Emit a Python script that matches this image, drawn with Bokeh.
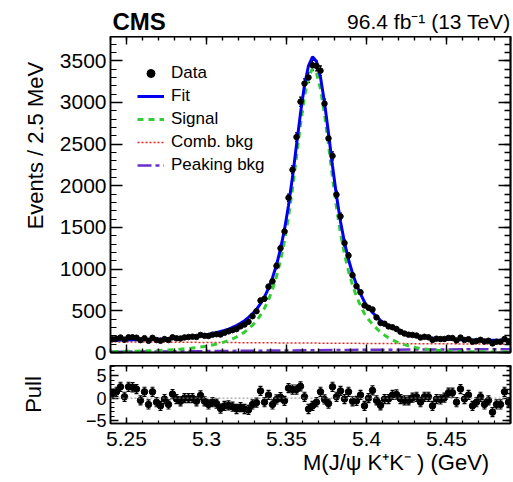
import math
from bokeh.plotting import figure
from bokeh.layouts import column
from bokeh.models import (Range1d, FixedTicker, LinearAxis, Legend, LegendItem,
                          ColumnDataSource, Whisker, TeeHead, Span)
from bokeh.core.properties import value
from bokeh.embed import file_html
from bokeh.resources import INLINE

# ---------------- data ----------------
x_lo, x_hi = 5.24, 5.49
bin_width = 0.0025
bin_centers = [round(x_lo + bin_width * (i + 0.5), 5) for i in range(100)]

data_counts = [
    159, 165, 180, 154, 182, 182, 178, 148, 172, 140,
    176, 149, 140, 161, 149, 182, 170, 168, 181, 185,
    190, 186, 211, 200, 197, 214, 220, 215, 236, 254,
    268, 281, 314, 335, 368, 435, 495, 624, 645, 789,
    854, 1039, 1251, 1451, 1856, 2191, 2584, 3008, 3226, 3298,
    3446, 3437, 3380, 2984, 2568, 2358, 1893, 1633, 1313, 1162,
    928, 796, 723, 564, 536, 516, 421, 355, 345, 313,
    303, 282, 248, 227, 214, 210, 203, 179, 188, 182,
    151, 166, 161, 163, 175, 173, 144, 179, 150, 160,
    129, 138, 152, 131, 141, 109, 129, 129, 162, 134,
]

fit_curve = [
    147, 148, 149, 150, 151, 152, 153, 154, 155, 157,
    158, 160, 162, 164, 167, 170, 173, 177, 181, 185,
    190, 196, 202, 210, 218, 228, 238, 251, 264, 281,
    301, 324, 351, 382, 421, 465, 518, 585, 668, 770,
    896, 1049, 1244, 1474, 1764, 2104, 2489, 2869, 3209, 3439,
    3547, 3490, 3300, 3000, 2630, 2240, 1880, 1570, 1320, 1115,
    950, 813, 704, 606, 536, 479, 431, 386, 349, 317,
    291, 269, 251, 235, 221, 209, 199, 191, 184, 178,
    173, 169, 165, 162, 159.5, 157.5, 155.5, 154, 152.5, 151.5,
    149.5, 148.5, 148, 147.5, 147, 146.5, 146, 145.5, 145, 145,
]

signal_curve = [
    10, 11, 11.5, 12.5, 13.5, 14.5, 15.5, 16.5, 18, 19.5,
    21, 23, 25, 27, 30, 33, 36, 40, 44, 48,
    53, 59, 65, 73, 81, 91, 101, 114, 127, 144,
    163, 186, 213, 244, 283, 327, 380, 447, 530, 632,
    757, 910, 1105, 1335, 1625, 1965, 2350, 2730, 3070, 3300,
    3407, 3350, 3160, 2860, 2490, 2100, 1740, 1430, 1180, 975,
    810, 672, 563, 465, 395, 338, 290, 245, 208, 176,
    150, 128, 110, 94, 80, 68, 58, 50, 43, 37,
    32, 28, 24, 21, 18.5, 16.5, 14.5, 13, 11.5, 10.5,
    9.5, 8.5, 8, 7.5, 7, 6.5, 6, 5.5, 5, 5,
]

bkg_x = [5.24, 5.265, 5.29, 5.315, 5.34, 5.365, 5.39, 5.415, 5.44, 5.465, 5.49]
comb_bkg = [128, 125, 122, 119, 116, 113, 110, 107.5, 105, 102.5, 100]
peaking_bkg = [9, 12, 15, 19, 23, 27, 31, 34, 36, 38, 39]

pulls = [
    1.0, 1.4, 2.5, 0.3, 2.5, 2.4, 2.0, -0.5, 1.4, -1.4,
    1.4, -0.9, -1.7, -0.2, -1.4, 0.9, -0.2, -0.7, 0.0, 0.0,
    0.0, -0.7, 0.6, -0.7, -1.4, -0.9, -1.2, -2.3, -1.7, -1.6,
    -1.9, -2.4, -2.0, -2.4, -2.6, -1.4, -1.0, 1.6, -0.9, 0.7,
    -1.4, -0.3, 0.2, -0.6, 2.2, 1.9, 1.9, 2.6, 0.3, -2.4,
    -1.7, -0.9, 1.4, -0.3, -1.2, 2.5, 0.3, 1.6, -0.2, 1.4,
    -0.7, -0.6, 0.7, -1.7, 0.0, 1.7, -0.5, -1.6, -0.2, -0.2,
    0.7, 0.8, -0.2, -0.5, -0.5, 0.1, 0.3, -0.9, 0.3, 0.3,
    -1.7, -0.2, -0.3, 0.1, 1.2, 1.2, -0.9, 2.0, -0.2, 0.7,
    -1.7, -0.9, 0.3, -1.4, -0.5, -3.1, -1.4, -1.4, 1.4, -0.9,
]

x_major = [5.25, 5.30, 5.35, 5.40, 5.45]
x_labels = {5.25: "5.25", 5.3: "5.3", 5.35: "5.35", 5.4: "5.4", 5.45: "5.45"}
x_minor = [round(5.24 + 0.01 * k, 2) for k in range(26)]
y_major = [0, 500, 1000, 1500, 2000, 2500, 3000, 3500]
y_minor = list(range(0, 3800, 100))
pull_major = [-5, 0, 5]
pull_minor = list(range(-5, 8))

header_left = "CMS"
header_right = "96.4 fb\u207b\u00b9 (13 TeV)"
y_title = "Events / 2.5 MeV"
pull_title = "Pull"
x_title = "M(J/\u03c8 K\u207aK\u207b ) (GeV)"

FONT = "Liberation Sans"
NB = "\u00a0"


def base_axis(ax, ticks, minor, tin, minin, size="21px"):
    ax.ticker = FixedTicker(ticks=ticks, minor_ticks=minor)
    ax.major_tick_in = tin
    ax.major_tick_out = 0
    ax.minor_tick_in = minin
    ax.minor_tick_out = 0
    ax.axis_line_color = "black"
    ax.axis_line_width = 1.5
    ax.major_tick_line_width = 1.5
    ax.minor_tick_line_width = 1.2
    ax.major_label_text_font = FONT
    ax.major_label_text_color = "black"
    ax.major_label_text_font_size = size
    ax.axis_label_text_color = "black"
    ax.axis_label_text_font = FONT
    ax.axis_label_text_font_size = "22px"
    ax.axis_label_text_font_style = "normal"


def tick_only_axes(p, side, major, minor, long_len, short_len):
    # two label-free axes: one for short (minor) ticks, one for long (major) ticks
    for ticks, ln in ((minor, short_len), (major, long_len)):
        ax = LinearAxis(ticker=FixedTicker(ticks=[], minor_ticks=ticks),
                        minor_tick_in=ln, minor_tick_out=0, major_tick_in=0, major_tick_out=0,
                        minor_tick_line_width=1.4, axis_line_color="black", axis_line_width=1.5,
                        major_label_standoff=0)
        p.add_layout(ax, side)


# ---------------- header strip ----------------
p0 = figure(width=513, height=36, x_range=Range1d(0, 1), y_range=Range1d(0, 1),
            output_backend="svg", toolbar_location=None, x_axis_type=None, y_axis_type=None,
            min_border_left=110, min_border_right=3, min_border_top=0, min_border_bottom=0)
p0.outline_line_color = None
p0.grid.visible = False
p0.text(x=[0.005], y=[0.42], text=[header_left], text_font=value(FONT), text_font_size="24px",
        text_font_style="bold", text_baseline="middle", text_align="left", text_color="black")
p0.text(x=[1], y=[0.42], text=[header_right], text_font=value(FONT), text_font_size="21px",
        text_baseline="middle", text_align="right", text_color="black")

# ---------------- main panel ----------------
p1 = figure(width=513, height=329, x_range=Range1d(x_lo, x_hi), y_range=Range1d(0, 3790),
            output_backend="svg", toolbar_location=None, x_axis_type=None,
            min_border_left=110, min_border_right=3, min_border_top=0, min_border_bottom=13)
p1.grid.visible = False
p1.outline_line_color = "black"
p1.outline_line_width = 1.5

base_axis(p1.yaxis[0], y_major, y_minor, 12, 6)
p1.yaxis[0].major_label_standoff = 4
p1.yaxis[0].axis_label = NB * 16 + y_title
p1.yaxis[0].axis_label_standoff = 9
tick_only_axes(p1, "below", x_major, x_minor, 8, 4)
tick_only_axes(p1, "above", x_major, x_minor, 8, 4)
tick_only_axes(p1, "right", y_major, y_minor, 12, 6)

r_comb = p1.line(bkg_x, comb_bkg, line_color="#ee2222", line_width=1.5, line_dash="2 2")
r_peak = p1.line(bkg_x, peaking_bkg, line_color="#6a2fc8", line_width=2.5, line_dash="14 4 4 4")
r_sig = p1.line(bin_centers, signal_curve, line_color="#33cc33", line_width=3, line_dash="6 5")
r_fit = p1.line(bin_centers, fit_curve, line_color="#0000ee", line_width=3)

err = [math.sqrt(v) for v in data_counts]
src1 = ColumnDataSource(dict(x=bin_centers, y=data_counts,
                             lo=[v - e for v, e in zip(data_counts, err)],
                             hi=[v + e for v, e in zip(data_counts, err)]))
p1.add_layout(Whisker(source=src1, base="x", lower="lo", upper="hi", line_color="black",
                      line_width=1.2, lower_head=TeeHead(size=3, line_width=1.2),
                      upper_head=TeeHead(size=3, line_width=1.2)))
r_data = p1.scatter("x", "y", source=src1, size=5.5, color="black")

legend = Legend(items=[
    LegendItem(label="Data", renderers=[r_data]),
    LegendItem(label="Fit", renderers=[r_fit]),
    LegendItem(label="Signal", renderers=[r_sig]),
    LegendItem(label="Comb. bkg", renderers=[r_comb]),
    LegendItem(label="Peaking bkg", renderers=[r_peak]),
], location="top_left", margin=17, padding=10, spacing=3, glyph_width=27, glyph_height=20,
    label_height=20, label_standoff=7, label_text_font=FONT, label_text_font_size="17px",
    label_text_color="black", border_line_alpha=0, background_fill_alpha=0)
p1.add_layout(legend)

# ---------------- pull panel ----------------
p2 = figure(width=513, height=117, x_range=p1.x_range, y_range=Range1d(-5.6, 7.2),
            output_backend="svg", toolbar_location=None,
            min_border_left=110, min_border_right=3, min_border_top=0, min_border_bottom=59)
p2.grid.visible = False
p2.outline_line_color = "black"
p2.outline_line_width = 1.5
base_axis(p2.xaxis[0], x_major, x_minor, 6, 3)
p2.xaxis[0].major_label_overrides = x_labels
p2.xaxis[0].major_label_standoff = 8
p2.xaxis[0].axis_label = NB * 28 + x_title
p2.xaxis[0].axis_label_standoff = 1
base_axis(p2.yaxis[0], pull_major, pull_minor, 8, 4, size="18px")
p2.yaxis[0].major_label_overrides = {-5: "\u22125", 0: "0", 5: "5"}
p2.yaxis[0].major_label_standoff = 4
p2.yaxis[0].axis_label = pull_title
p2.yaxis[0].axis_label_standoff = 37
tick_only_axes(p2, "above", x_major, x_minor, 6, 3)
tick_only_axes(p2, "right", pull_major, pull_minor, 8, 4)

p2.add_layout(Span(location=0, dimension="width", line_color="#888888", line_width=1,
                   line_dash="2 2"))
src2 = ColumnDataSource(dict(x=bin_centers, y=pulls,
                             lo=[v - 1 for v in pulls], hi=[v + 1 for v in pulls]))
p2.add_layout(Whisker(source=src2, base="x", lower="lo", upper="hi", line_color="#222222",
                      line_width=1.2, lower_head=TeeHead(size=4, line_width=1.2),
                      upper_head=TeeHead(size=4, line_width=1.2)))
p2.scatter("x", "y", source=src2, size=6.5, color="black")

layout = column(p0, p1, p2)
open("out.html", "w").write(file_html(layout, INLINE))
